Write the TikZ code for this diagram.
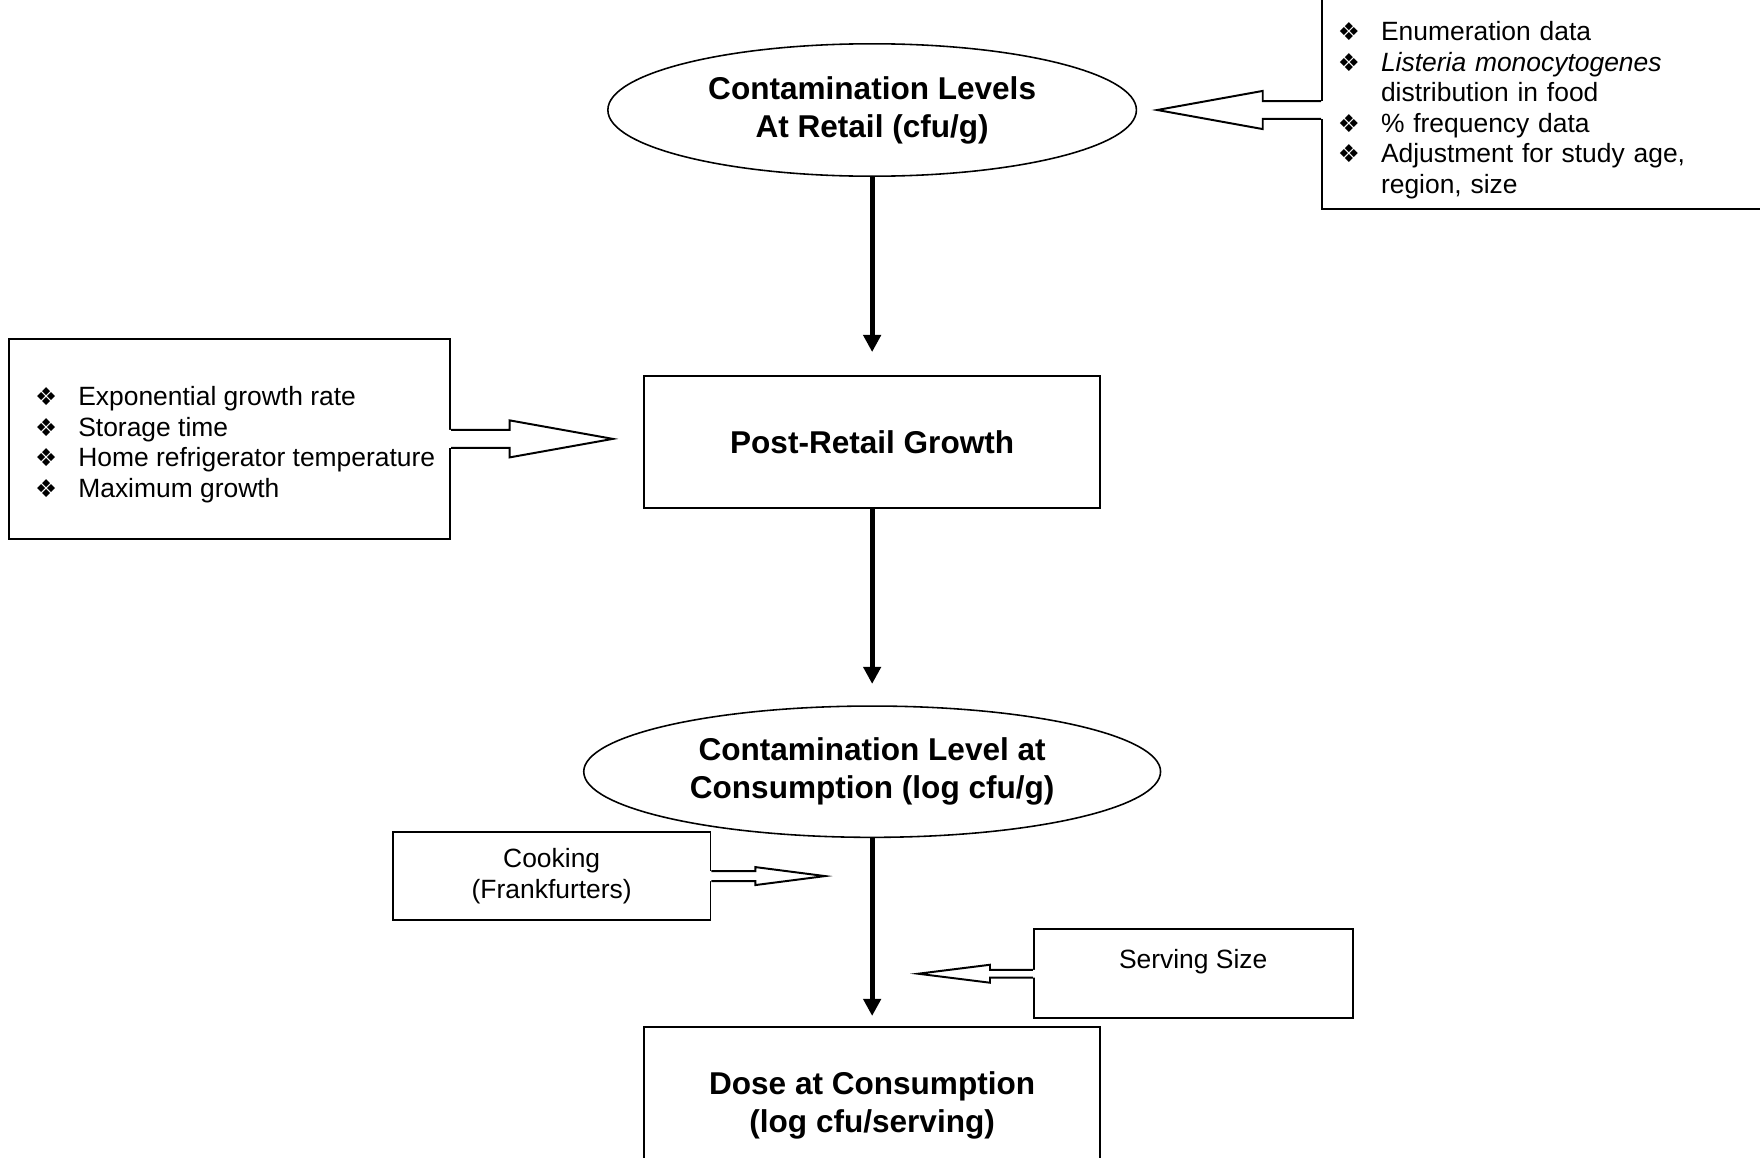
\documentclass[tikz,border=0pt]{standalone}
\usepackage{fontspec}
\setmainfont{Liberation Sans}
\newfontfamily\dingfont{DejaVu Sans}
\usetikzlibrary{shapes.geometric,arrows.meta,calc}

% bullet with hanging space
\newcommand{\bul}{\makebox[0.77cm][l]{\dingfont\fontsize{12.5}{12.5}\selectfont ❖}}
% hollow block arrow: start, tip, head length, shaft half width, head half width
\newcommand{\hollowarrow}[5]{%
  \fill[white] let \p1=(#1), \p2=(#2), \p3=($(#2)!#3!(#1)$), \p4=($(#1)!-1.5pt!(#2)$) in
    (\x4,\y1+#4) -- (\x3,\y1+#4) -- (\x3,\y1+#5) -- (\x2,\y2)
    -- (\x3,\y1-#5) -- (\x3,\y1-#4) -- (\x4,\y1-#4) -- cycle;
  \draw[hollow] let \p1=(#1), \p2=(#2), \p3=($(#2)!#3!(#1)$) in
    (\x1,\y1+#4) -- (\x3,\y1+#4) -- (\x3,\y1+#5) -- (\x2,\y2)
    -- (\x3,\y1-#5) -- (\x3,\y1-#4) -- (\x1,\y1-#4);
}

\begin{document}
\begin{tikzpicture}[x=0.02cm,y=-0.02cm,
    mainfont/.style={font=\fontsize{16}{19.3}\selectfont\bfseries},
    notefont/.style={font=\fontsize{13.4}{15.5}\selectfont},
    stageoval/.style={ellipse,draw,line width=0.8pt,inner sep=0pt,align=center,mainfont},
    stagebox/.style={rectangle,draw,line width=1pt,align=center,mainfont},
    notebox/.style={rectangle,draw,line width=1pt,notefont},
    flow/.style={line width=2.4pt,-{Triangle[width=8.7pt,length=8.7pt]}},
    hollow/.style={line width=1pt,line join=miter}]

    \useasboundingbox (0,0) rectangle (1568,1031);
    \clip (0,0) rectangle (1568,1031);
    \fill[white] (0,0) rectangle (1568,1031);

    % main chain
    \node[stageoval,minimum width=9.42cm,minimum height=2.36cm] (retail) at (777,98)
        {Contamination Levels\\At Retail (cfu/g)};
    \node[stagebox,minimum width=8.12cm,minimum height=2.36cm] (growth) at (777,394)
        {Post-Retail Growth};
    \node[stageoval,minimum width=10.28cm,minimum height=2.34cm] (consumption) at (777,687.5)
        {Contamination Level at\\Consumption (log cfu/g)};
    \node[stagebox,minimum width=8.12cm,minimum height=2.8cm] (dose) at (777,985)
        {Dose at Consumption\\(log cfu/serving)};

    % input boxes
    \node[notebox,anchor=south west,align=left,text width=7.6cm,inner xsep=0.28cm,inner ysep=0.18cm] (info) at (1177,187)
        {\bul Enumeration data\rule{0pt}{2cm}\\
         \bul\textit{Listeria monocytogenes}\\
         \hspace*{0.77cm}distribution in food\\
         \bul\% frequency data\\
         \bul Adjustment for study age,\\
         \hspace*{0.77cm}region, size};
    \node[notebox,align=left,minimum width=7.86cm,minimum height=3.56cm] (growthinfo) at (204.5,391)
        {\hspace*{0.2cm}\bul Exponential growth rate\rule{0pt}{0.54cm}\\
         \hspace*{0.2cm}\bul Storage time\\
         \hspace*{0.2cm}\bul Home refrigerator temperature\\
         \hspace*{0.2cm}\bul Maximum growth};
    \node[notebox,align=center,minimum width=5.66cm,minimum height=1.58cm] (cooking) at (491.5,780.5)
        {Cooking\\(Frankfurters)};
    \node[notebox,align=center,minimum width=5.68cm,minimum height=1.58cm] (serving) at (1063,867.5)
        {Serving Size\\\mbox{}};

    % arrow tips
    \coordinate (retailtip) at (1031,98);
    \coordinate (growthtip) at (546,391);
    \coordinate (cooktip) at (735,780.5);
    \coordinate (servetip) at (818,867.5);

    % flow arrows
    \draw[flow,shorten >=0.41cm] (retail) -- (growth);
    \draw[flow,shorten >=0.38cm] (growth) -- (consumption);
    \draw[flow,shorten >=0.18cm] (consumption) -- (dose);

    % hollow arrows
    \hollowarrow{info.west |- retailtip}{retailtip}{1.88cm}{0.16cm}{0.34cm}
    \hollowarrow{growthinfo.east}{growthtip}{1.84cm}{0.16cm}{0.33cm}
    \hollowarrow{cooking.east}{cooktip}{1.24cm}{0.09cm}{0.16cm}
    \hollowarrow{serving.west}{servetip}{1.28cm}{0.07cm}{0.16cm}
\end{tikzpicture}
\end{document}
